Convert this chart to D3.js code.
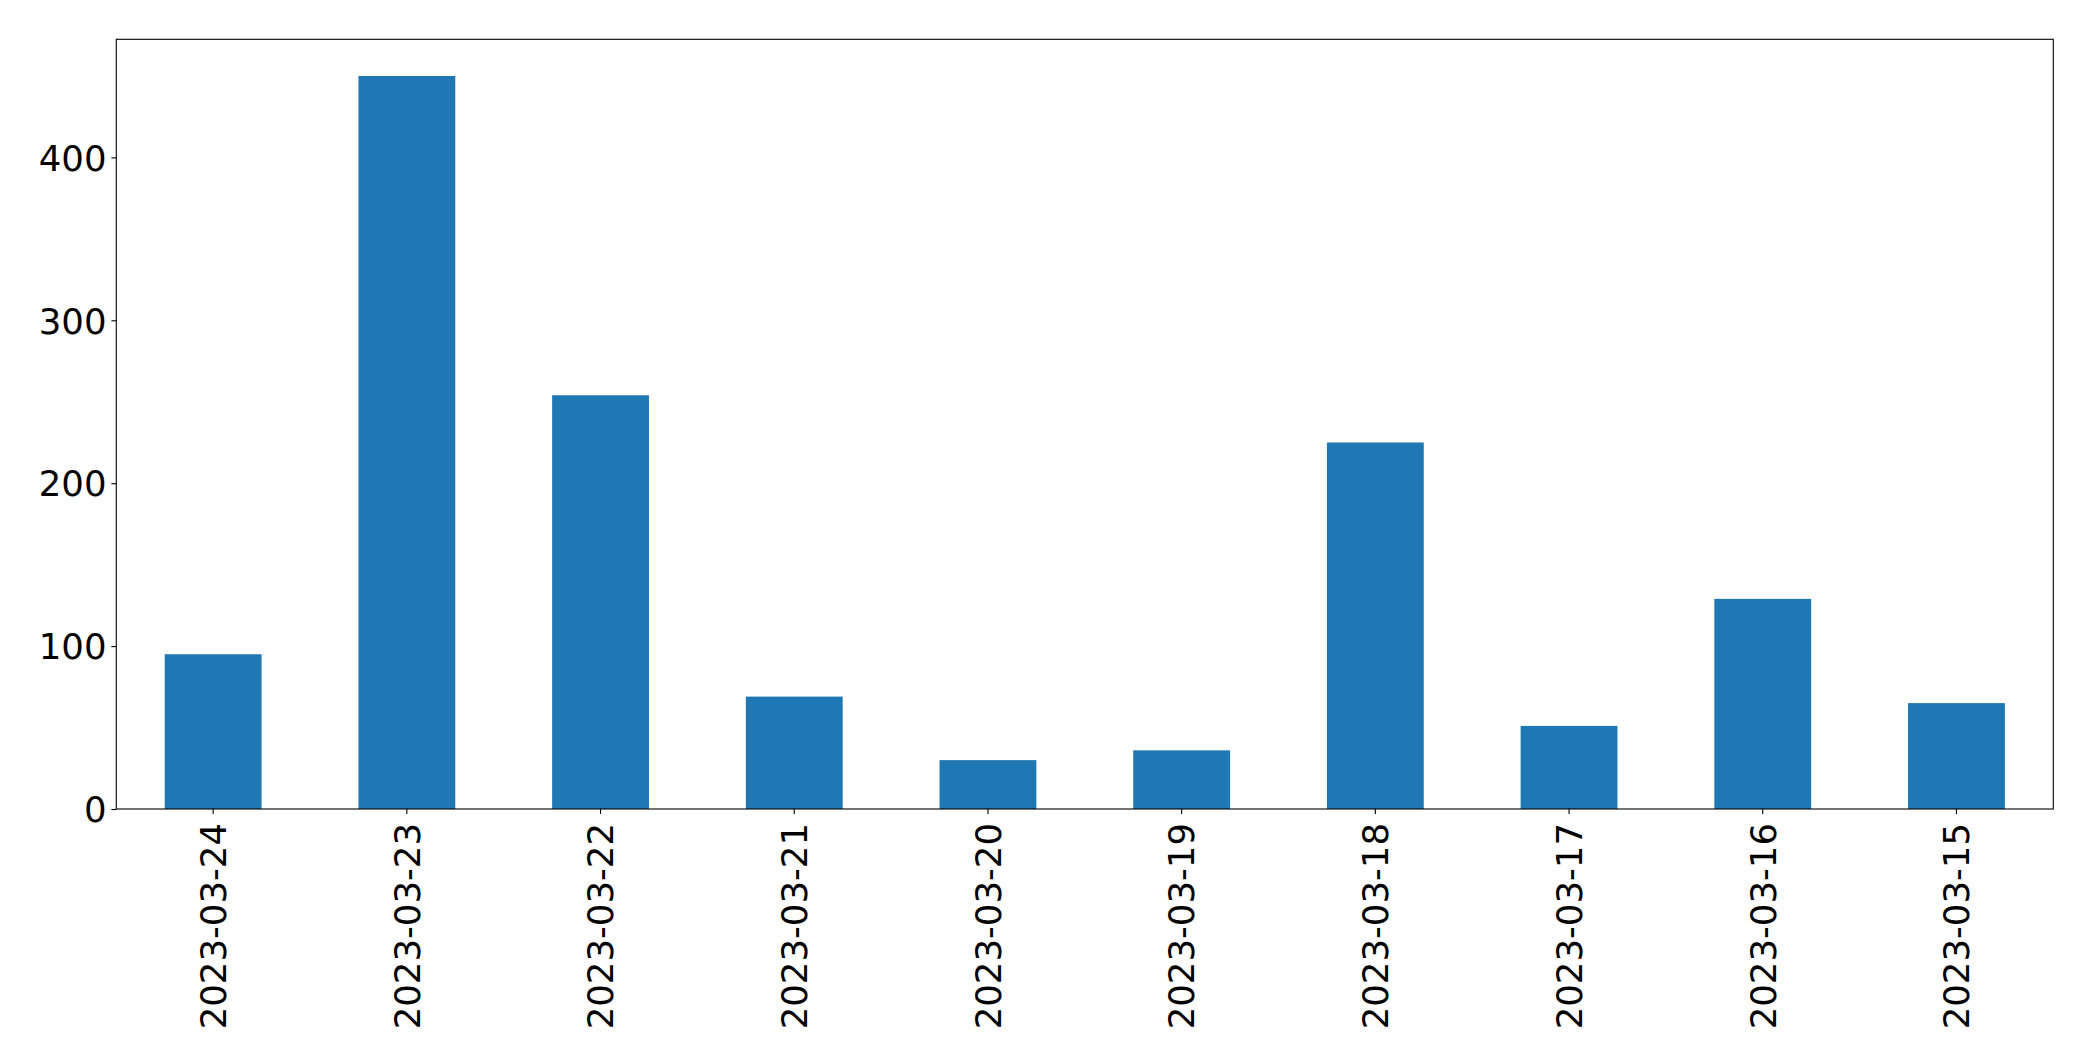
<!DOCTYPE html>
<html>
<head>
<meta charset="utf-8">
<script src="https://cdn.jsdelivr.net/npm/d3@7"></script>
<style>
  html, body { margin: 0; padding: 0; background: #fff; }
  svg { display: block; }
  text { font-family: "DejaVu Sans", sans-serif; fill: #000; }
</style>
</head>
<body>
<svg id="chart" width="2093" height="1061"></svg>
<script>
const categories = ["2023-03-24", "2023-03-23", "2023-03-22", "2023-03-21", "2023-03-20",
                    "2023-03-19", "2023-03-18", "2023-03-17", "2023-03-16", "2023-03-15"];
const values = [95, 450, 254, 69, 30, 36, 225, 51, 129, 65];
const yTicks = [0, 100, 200, 300, 400];

const plotLeft = 116.3, plotRight = 2053.3, plotTop = 39.3, plotBottom = 809;
const fontSize = 35.5;

const svg = d3.select("#chart");

const x = d3.scaleBand()
  .domain(categories)
  .range([plotLeft, plotRight])
  .paddingInner(0.5)
  .paddingOuter(0.25);

const yMax = d3.max(values) * 1.05;
const y = d3.scaleLinear().domain([0, yMax]).range([plotBottom, plotTop]);

// bars
svg.append("g")
  .selectAll("rect")
  .data(values)
  .join("rect")
  .attr("x", (d, i) => x(categories[i]))
  .attr("width", x.bandwidth())
  .attr("y", d => y(d))
  .attr("height", d => y(0) - y(d))
  .attr("fill", "#1f77b4");

// y axis
const yAxis = d3.axisLeft(y).tickValues(yTicks).tickSize(4.9).tickPadding(4.9).tickFormat(d3.format("d"));
const gy = svg.append("g").attr("transform", `translate(${plotLeft},0)`).call(yAxis);
gy.select(".domain").remove();
gy.selectAll(".tick line").attr("stroke", "#000").attr("stroke-width", 1.1);
gy.selectAll(".tick text")
  .attr("font-size", fontSize)
  .attr("font-family", "DejaVu Sans, sans-serif")
  .attr("fill", "#000")
  .attr("dy", "0.36em");

// x axis
const xAxis = d3.axisBottom(x).tickSize(4.9).tickPadding(4.9);
const gx = svg.append("g").attr("transform", `translate(0,${plotBottom})`).call(xAxis);
gx.select(".domain").remove();
gx.selectAll(".tick line").attr("stroke", "#000").attr("stroke-width", 1.1);
gx.selectAll(".tick text")
  .attr("font-size", fontSize)
  .attr("font-family", "DejaVu Sans, sans-serif")
  .attr("fill", "#000")
  .attr("text-anchor", "end")
  .attr("y", 0)
  .attr("dy", "0.36em")
  .attr("transform", "translate(0,14) rotate(-90)");

// frame
svg.append("rect")
  .attr("x", plotLeft).attr("y", plotTop)
  .attr("width", plotRight - plotLeft).attr("height", plotBottom - plotTop)
  .attr("fill", "none").attr("stroke", "#000").attr("stroke-width", 1.1);
</script>
</body>
</html>
